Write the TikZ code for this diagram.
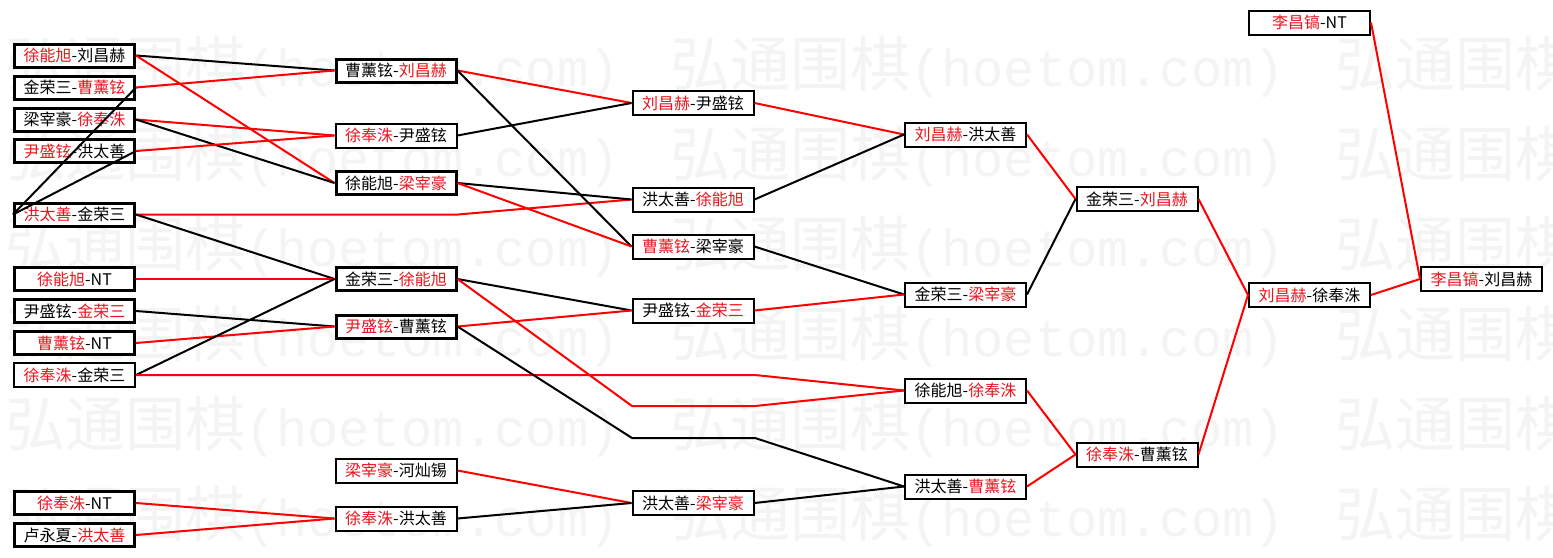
\documentclass[tikz,border=0pt]{standalone}
\usepackage{fontspec}
\setmainfont{Noto Sans CJK SC}
\newfontfamily\wmcjk{Noto Sans CJK SC}
\newfontfamily\wmlat{Liberation Mono}
\definecolor{wmgray}{RGB}{244,244,244}
\definecolor{winred}{RGB}{255,0,0}
\definecolor{txtred}{RGB}{235,20,30}
\newcommand{\rd}[1]{\textcolor{txtred}{#1}}
\tikzset{
  box/.style={draw=black, fill=white, line width=2pt, minimum width=121pt,
    minimum height=24pt, inner sep=0pt, text=black,
    font=\fontsize{16}{16}\selectfont},
  tbox/.style={box, line width=3pt, minimum width=120pt, minimum height=23pt},
  win/.style={draw=winred, line width=2pt},
  los/.style={draw=black, line width=2pt},
  wm/.style={anchor=west, inner sep=0pt, text=wmgray}
}
\begin{document}
\begin{tikzpicture}[x=1pt,y=-1pt]
\useasboundingbox (0,0) rectangle (1553,557);
\fill[white] (0,0) rectangle (1553,557);
% faint watermark
\foreach \r/\yy in {1/67,2/157,3/247,4/337,5/427,6/517}{
  \foreach \k in {0,1,2}{
    \node[wm] (w\r\k) at ({5+665*\k},\yy)
      {{\wmcjk\fontsize{60}{60}\selectfont 弘通围棋}{\wmlat\fontsize{52}{52}\selectfont (hoetom.com)}};
  }
}
% column 1
\node[tbox] (A1) at (74.5,55.5) {\rd{徐能旭}-刘昌赫};
\node[tbox] (A2) at (74.5,87.5) {金荣三-\rd{曹薰铉}};
\node[tbox] (A3) at (74.5,119.5) {梁宰豪-\rd{徐奉洙}};
\node[tbox] (A4) at (74.5,151) {\rd{尹盛铉}-洪太善};
\node[tbox] (A5) at (74.5,214.5) {\rd{洪太善}-金荣三};
\node[tbox] (A6) at (74.5,279) {\rd{徐能旭}-NT};
\node[tbox] (A7) at (74.5,311) {尹盛铉-\rd{金荣三}};
\node[tbox] (A8) at (74.5,343) {\rd{曹薰铉}-NT};
\node[box]  (A9) at (74.5,375) {\rd{徐奉洙}-金荣三};
\node[tbox] (A10) at (74.5,503) {\rd{徐奉洙}-NT};
\node[tbox] (A11) at (74.5,535) {卢永夏-\rd{洪太善}};
% column 2
\node[tbox] (B1) at (396,70.5) {曹薰铉-\rd{刘昌赫}};
\node[box]  (B2) at (396,135.5) {\rd{徐奉洙}-尹盛铉};
\node[tbox] (B3) at (396,183) {徐能旭-\rd{梁宰豪}};
\node[tbox] (B4) at (396,279) {金荣三-\rd{徐能旭}};
\node[tbox] (B5) at (396,326.5) {\rd{尹盛铉}-曹薰铉};
\node[box]  (B6) at (396,470.5) {\rd{梁宰豪}-河灿锡};
\node[box]  (B7) at (396,518.5) {\rd{徐奉洙}-洪太善};
% column 3
\node[box] (C1) at (693,103) {\rd{刘昌赫}-尹盛铉};
\node[box] (C2) at (693,199.5) {洪太善-\rd{徐能旭}};
\node[box] (C3) at (693,246.5) {\rd{曹薰铉}-梁宰豪};
\node[box] (C4) at (693,310.5) {尹盛铉-\rd{金荣三}};
\node[box] (C5) at (693,503) {洪太善-\rd{梁宰豪}};
% column 4
\node[box] (D1) at (965.5,134.5) {\rd{刘昌赫}-洪太善};
\node[box] (D2) at (965.5,294.5) {金荣三-\rd{梁宰豪}};
\node[box] (D3) at (965.5,390.5) {徐能旭-\rd{徐奉洙}};
\node[box] (D4) at (965.5,486.5) {洪太善-\rd{曹薰铉}};
% column 5
\node[box] (E1) at (1137,199) {金荣三-\rd{刘昌赫}};
\node[box] (E2) at (1137,454.5) {\rd{徐奉洙}-曹薰铉};
% columns 6 and 7
\node[box] (F0) at (1309.5,22.5) {\rd{李昌镐}-NT};
\node[box] (F1) at (1309.5,295) {\rd{刘昌赫}-徐奉洙};
\node[box] (G1) at (1481.5,279) {\rd{李昌镐}-刘昌赫};
% bend points
\coordinate (k1) at (458,214.5);
\coordinate (k2) at (755,375);
\coordinate (k3) at (632,406);
\coordinate (k4) at (755,406);
\coordinate (k5) at (632,438);
\coordinate (k6) at (755,438);
% connectors column 1 -> 2
\draw[los] (A1.east) -- (B1.west);
\draw[win] (A1.east) -- (B3.west);
\draw[win] (A2.east) -- (B1.west);
\draw[win] (A3.east) -- (B2.west);
\draw[los] (A3.east) -- (B3.west);
\draw[win] (A4.east) -- (B2.west);
\draw[los] (A5.west) -- (A2.east);
\draw[los] (A5.west) -- (A4.east);
\draw[win] (A5.east) -- (k1) -- (C2.west);
\draw[los] (A5.east) -- (B4.west);
\draw[win] (A6.east) -- (B4.west);
\draw[los] (A7.east) -- (B5.west);
\draw[win] (A8.east) -- (B5.west);
\draw[los] (A9.east) -- (B4.west);
\draw[win] (A9.east) -- (k2) -- (D3.west);
\draw[win] (A10.east) -- (B7.west);
\draw[win] (A11.east) -- (B7.west);
% column 2 -> 3
\draw[win] (B1.east) -- (C1.west);
\draw[los] (B1.east) -- (C3.west);
\draw[los] (B2.east) -- (C1.west);
\draw[los] (B3.east) -- (C2.west);
\draw[win] (B3.east) -- (C3.west);
\draw[los] (B4.east) -- (C4.west);
\draw[win] (B4.east) -- (k3) -- (k4) -- (D3.west);
\draw[win] (B5.east) -- (C4.west);
\draw[los] (B5.east) -- (k5) -- (k6) -- (D4.west);
\draw[win] (B6.east) -- (C5.west);
\draw[los] (B7.east) -- (C5.west);
% column 3 -> 4
\draw[win] (C1.east) -- (D1.west);
\draw[los] (C2.east) -- (D1.west);
\draw[los] (C3.east) -- (D2.west);
\draw[win] (C4.east) -- (D2.west);
\draw[los] (C5.east) -- (D4.west);
% column 4 -> 5
\draw[win] (D1.east) -- (E1.west);
\draw[los] (D2.east) -- (E1.west);
\draw[win] (D3.east) -- (E2.west);
\draw[win] (D4.east) -- (E2.west);
% columns 5 -> 6 -> 7
\draw[win] (E1.east) -- (F1.west);
\draw[win] (E2.east) -- (F1.west);
\draw[win] (F1.east) -- (G1.west);
\draw[win] (F0.east) -- (G1.west);
\end{tikzpicture}
\end{document}
